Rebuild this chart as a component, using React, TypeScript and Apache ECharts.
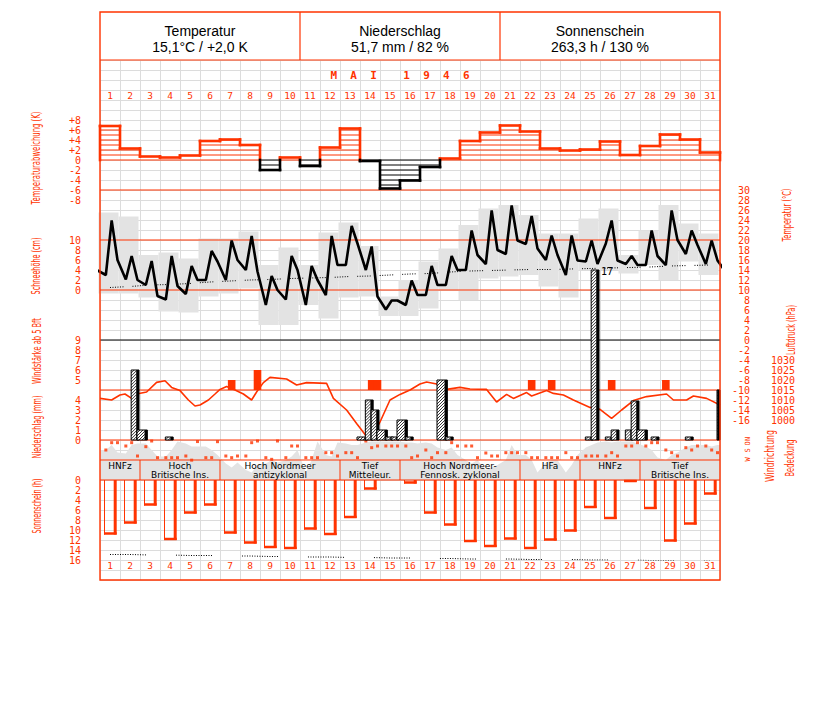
import React, { useEffect, useRef } from "react";
import * as echarts from "echarts";

const RED = "#ff3300";
const GRID_GREY = "#dcdcdc";
const BOX_GREY = "#e3e3e3";
const MONO = "'DejaVu Sans Mono', 'Liberation Mono', monospace";
const SANS = "'Liberation Sans', Arial, sans-serif";
const COND = "'DejaVu Sans Condensed', 'DejaVu Sans', sans-serif";

const dayLabels = ["1","2","3","4","5","6","7","8","9","10","11","12","13","14","15","16","17","18","19","20","21","22","23","24","25","26","27","28","29","30","31"];

const headerTitles = ["Temperatur", "Niederschlag", "Sonnenschein"];
const headerValues = ["15,1°C / +2,0 K", "51,7 mm / 82 %", "263,3 h / 130 %"];

// Temperature anomaly (K) per day
const anomalyK = [6.8, 2.3, 0.7, 0.5, 0.9, 3.8, 4.1, 3.0, -2.0, 0.5, -1.2, 2.5, 6.3, -0.2, -5.7, -4.1, -1.4, 0.3, 3.8, 5.5, 6.9, 5.7, 2.3, 1.9, 2.1, 3.7, 1.0, 2.8, 5.1, 4.1, 1.5];

// Temperature at 7, 14, 21 h (°C)
const temp07 = [13.0, 12.1, 11.0, 8.1, 9.2, 12.0, 12.0, 14.0, 7.0, 8.1, 7.0, 9.0, 15.0, 14.0, 6.1, 7.0, 9.0, 11.0, 14.0, 15.2, 17.2, 19.2, 16.0, 13.0, 15.7, 19.3, 15.2, 15.0, 15.0, 17.2, 15.2];
const temp14 = [23.9, 16.8, 15.8, 16.8, 14.8, 17.8, 19.9, 20.8, 12.8, 16.8, 14.8, 20.8, 22.8, 18.7, 7.9, 11.9, 14.8, 16.8, 21.9, 25.9, 26.9, 24.8, 20.9, 20.9, 19.9, 23.9, 16.8, 21.9, 25.9, 21.9, 19.9];
const temp21 = [16.0, 12.0, 8.8, 10.8, 12.0, 15.7, 16.0, 13.7, 10.0, 14.0, 12.0, 15.0, 19.3, 8.7, 7.9, 9.0, 11.0, 14.0, 17.0, 18.0, 19.9, 18.3, 17.0, 15.9, 15.2, 15.9, 15.0, 16.8, 20.0, 19.0, 15.9];
const tempPrevEvening = 13.9;
const tempNextMorning = 13.6;
const tempMax = [25.5, 24.7, 17.0, 17.5, 16.3, 20.3, 20.3, 21.7, 15.0, 18.5, 15.0, 21.5, 23.5, 18.8, 8.7, 12.0, 15.7, 18.3, 23.0, 26.3, 27.0, 25.0, 21.3, 21.3, 24.3, 26.3, 17.0, 21.9, 27.0, 23.3, 21.3];
const tempMin = [9.3, 9.3, 8.5, 5.7, 5.5, 8.7, 9.3, 10.3, 3.0, 3.0, 7.0, 4.3, 8.5, 8.7, 4.8, 4.8, 6.3, 10.0, 8.0, 12.3, 12.7, 13.0, 10.7, 8.5, 14.0, 14.0, 13.3, 15.0, 12.0, 15.7, 13.0];
const tempNormal = [10.5, 10.7, 11.0, 11.1, 11.3, 11.6, 11.8, 12.0, 12.1, 12.3, 12.4, 12.5, 12.7, 12.8, 13.0, 13.2, 13.3, 13.6, 13.8, 13.9, 14.0, 14.1, 14.1, 14.2, 14.3, 14.4, 14.5, 14.6, 14.8, 14.9, 15.0];

// Precipitation per observation interval (slot 0: 21-7 h, 1: 7-14 h, 2: 14-21 h)
const precipDay = [2, 3, 4, 14, 14, 14, 15, 15, 15, 16, 16, 18, 18, 25, 25, 26, 26, 27, 27, 28, 28, 30, 32];
const precipSlot = [2, 0, 1, 0, 1, 2, 0, 1, 2, 0, 1, 0, 1, 1, 2, 1, 2, 1, 2, 0, 2, 1, 0];
const precipMm = [7, 1, 0.3, 0.3, 4, 3, 1, 0.3, 0.3, 2, 0.3, 6, 0.3, 0.3, 17, 0.3, 1, 1, 3.9, 1, 0.3, 0.3, 5];
const slotStartHour = [-3, 7, 14];
const slotEndHour = [7, 14, 21];

// Wind >= 5 Bft
const windDay = [7, 8, 14, 14, 22, 23, 26, 29];
const windHour = [14, 21, 14, 21, 14, 14, 14, 7];
const windBft = [5, 6, 5, 5, 5, 5, 5, 5];

// Air pressure (hPa)
const pressureDay = [0, 0.58, 1.0, 1.25, 1.58, 1.83, 2.33, 2.83, 3.25, 3.58, 4.0, 4.42, 4.75, 5.0, 5.42, 5.75, 6.0, 6.33, 6.75, 7.17, 7.58, 7.83, 8.17, 8.5, 9.33, 9.83, 10.33, 11.33, 11.67, 12.33, 12.83, 13.33, 13.67, 14.0, 14.5, 15.0, 15.5, 16.0, 16.33, 16.83, 17.33, 18.0, 18.5, 19.33, 19.83, 20.33, 20.67, 21.33, 21.58, 22.33, 22.67, 23.17, 23.67, 24.5, 25.0, 25.58, 26.08, 26.67, 27.33, 28.33, 28.67, 29.33, 29.67, 30.33, 31.0];
const pressureHpa = [1010.8, 1010, 1012.5, 1013, 1010.8, 1013, 1014, 1018.8, 1019.6, 1016.3, 1014.7, 1010, 1007, 1007.5, 1010, 1013, 1015.3, 1016.7, 1015, 1013, 1010, 1014, 1018.7, 1021.3, 1020.5, 1017.5, 1018.7, 1018.3, 1010.8, 1005, 998.3, 991.7, 992.5, 999, 1010, 1012.8, 1015, 1018, 1019, 1018, 1015.3, 1016.3, 1015.5, 1015.3, 1009, 1012.8, 1010.8, 1013.7, 1012, 1014.7, 1013.3, 1012.5, 1010, 1006.3, 1005.3, 1000.8, 1005, 1009.7, 1011.7, 1013, 1010, 1010, 1012, 1010.8, 1007.5];

// Cloud cover (octas) at 7, 14, 21 h
const cloud07 = [6, 5.3, 7.3, 4.7, 7.3, 6.7, 3.3, 2, 3.3, 4, 1.5, 5, 7.3, 7.5, 7.7, 7.5, 7.5, 6, 4, 2, 4, 5, 3.5, 1.5, 6.5, 7.7, 7.7, 6.7, 4, 6.5, 7];
const cloud14 = [7, 7, 6, 6, 6.7, 6, 2.5, 1.5, 4, 4.7, 4, 4.7, 7, 7.7, 7.7, 7.5, 7.3, 6.5, 3.3, 2.5, 7, 4, 4, 3, 7, 7.5, 7.7, 6, 5, 7, 6.7];
const cloud21 = [5.5, 7.3, 4.7, 7.7, 6.7, 5, 3.5, 3, 3.5, 6, 7.7, 7.5, 7, 7.7, 7.7, 7.3, 6.5, 5, 4, 3, 5, 1.5, 4, 5, 7.5, 7.7, 7.3, 4.5, 5.5, 7, 7];

// Wind direction (degrees) at 7, 14, 21 h
const dir07 = [162, 90, 102, 300, 270, 300, 270, 270, 300, 300, 300, 210, 210, 0, 90, 90, 162, 210, 90, 216, 210, 210, 300, 210, 270, 270, 90, 90, 162, 120, 90];
const dir14 = [30, 30, 0, 300, 345, 300, 300, 30, 330, 90, 300, 210, 210, 120, 90, 300, 300, 30, 90, 270, 210, 300, 300, 300, 270, 210, 90, 30, 210, 162, 162];
const dir21 = [30, 270, 300, 300, 10, 12, 270, 0, 0, 90, 300, 270, 300, 90, 90, 270, 210, 90, 300, 270, 210, 300, 300, 300, 270, 270, 30, 30, 270, 90, 210];

// Sunshine (h) per day and possible duration
const sunHours = [10.9, 8.7, 5.1, 12.0, 6.7, 5.1, 10.7, 12.7, 13.6, 13.8, 9.9, 11.0, 7.6, 1.9, 0, 0.7, 6.7, 9.1, 12.4, 13.4, 11.9, 13.8, 12.1, 10.3, 5.6, 7.8, 0.4, 5.8, 12.3, 8.9, 2.9];
const sunPossible = [14.9, 14.9, 15.0, 15.0, 15.1, 15.1, 15.2, 15.2, 15.3, 15.3, 15.4, 15.4, 15.5, 15.5, 15.6, 15.6, 15.7, 15.7, 15.8, 15.8, 15.8, 15.9, 15.9, 15.9, 16.0, 16.0, 16.0, 16.1, 16.1, 16.1, 16.2];

// Weather types (Großwetterlagen)
const gwlStart = [0, 2, 6, 12, 15, 21, 24, 27];
const gwlEnd = [2, 6, 12, 15, 21, 24, 27, 31];
const gwlLine1 = ["HNFz", "Hoch", "Hoch Nordmeer", "Tief", "Hoch Nordmeer-", "HFa", "HNFz", "Tief"];
const gwlLine2 = ["", "Britische Ins.", "antizyklonal", "Mitteleur.", "Fennosk. zyklonal", "", "", "Britische Ins."];

const dirLetters = ["N", "O", "S", "W"];

function measure(text: string, font: string) {
  const ctx = document.createElement("canvas").getContext("2d") as CanvasRenderingContext2D;
  ctx.font = font;
  return ctx.measureText(text).width;
}

function vTitle(text: string, cx: number, cy: number, len: number) {
  const font = `12px ${COND}`;
  const w = measure(text, font) || len;
  return {
    type: "text", x: cx, y: cy, rotation: Math.PI / 2, scaleX: len / w, z: 20,
    style: { text, font, fill: RED, align: "center", verticalAlign: "middle", textAlign: "center", textVerticalAlign: "middle" },
  };
}

function hatch(x0: number, y0: number, x1: number, y1: number, step: number) {
  const out: any[] = [];
  for (let s = x0 + y0 + step; s < x1 + y1; s += step) {
    const xa = Math.max(x0, s - y1);
    const xb = Math.min(x1, s - y0);
    if (xb > xa) out.push({ type: "line", shape: { x1: xa, y1: s - xa, x2: xb, y2: s - xb }, style: { stroke: "#000", lineWidth: 0.8 } });
  }
  return out;
}

function buildOption() {
  const lbl = { color: RED, fontFamily: MONO, fontSize: 10, lineHeight: 9, margin: 19, showMinLabel: true, showMaxLabel: true, hideOverlap: false };
  const hidden = { axisLine: { show: false }, axisTick: { show: false }, splitLine: { show: false } };

  const grids = [
    { top: 60, height: 520 },
    { top: 100, height: 100 },
    { top: 190, height: 230 },
    { top: 340, height: 100 },
    { top: 440, height: 40 },
    { top: 480, height: 80 },
  ].map((g) => ({ ...g, left: 100, width: 620, show: false, containLabel: false, outerBoundsMode: "none" }));

  const xAxis = grids.map((_, i) => ({
    gridIndex: i, type: "value", min: 0, max: 31, interval: 1, show: i === 0,
    axisLine: { show: false }, axisTick: { show: false }, axisLabel: { show: false },
    splitLine: { show: i === 0, lineStyle: { color: GRID_GREY, width: 1 } },
  }));

  const yAxis = [
    { gridIndex: 0, type: "value", min: 0, max: 52, interval: 1, axisLine: { show: false }, axisTick: { show: false }, axisLabel: { show: false }, splitLine: { show: true, lineStyle: { color: GRID_GREY, width: 1 } } },
    { gridIndex: 1, type: "value", min: -8, max: 12, interval: 2, position: "left", ...hidden, axisLabel: { ...lbl, formatter: (v: number) => (v > 8 ? "" : v > 0 ? "+" + v : String(v)) } },
    { gridIndex: 2, type: "value", min: -26, max: 20, interval: 2, position: "left", ...hidden, axisLabel: { ...lbl, formatter: (v: number) => (v >= 0 && v <= 10 ? String(v) : "") } },
    { gridIndex: 2, type: "value", min: -16, max: 30, interval: 2, position: "right", ...hidden, axisLabel: { ...lbl, margin: 30, align: "right" } },
    { gridIndex: 3, type: "value", min: -1, max: 9, interval: 1, position: "left", ...hidden, axisLabel: { ...lbl, formatter: (v: number) => (v >= 5 ? String(v) : "") } },
    { gridIndex: 3, type: "value", min: 0, max: 10, interval: 1, position: "left", ...hidden, axisLabel: { ...lbl, formatter: (v: number) => (v <= 4 ? String(v) : "") } },
    { gridIndex: 3, type: "value", min: 990, max: 1040, interval: 5, position: "right", ...hidden, axisLabel: { ...lbl, margin: 75, align: "right", formatter: (v: number) => (v >= 1000 && v <= 1030 ? String(v) : "") } },
    { gridIndex: 4, type: "value", min: 0, max: 8, show: false },
    { gridIndex: 4, type: "value", min: -18, max: 702, inverse: true, show: false },
    { gridIndex: 5, type: "value", min: 0, max: 16, interval: 2, inverse: true, position: "left", ...hidden, axisLabel: { ...lbl } },
  ];

  const obsHours = [7, 14, 21];
  const tempLine: number[][] = [[-3 / 24, tempPrevEvening]];
  const cloudArea: number[][] = [];
  const dirPoints: number[][] = [];
  for (let d = 0; d < 31; d++) {
    tempLine.push([d + 7 / 24, temp07[d]], [d + 14 / 24, temp14[d]], [d + 21 / 24, temp21[d]]);
    const cl = [cloud07[d], cloud14[d], cloud21[d]];
    const dr = [dir07[d], dir14[d], dir21[d]];
    obsHours.forEach((h, k) => {
      cloudArea.push([d + h / 24, cl[k]]);
      dirPoints.push([d + h / 24, dr[k]]);
    });
  }
  tempLine.push([31 + 7 / 24, tempNextMorning]);
  cloudArea.unshift([0, cloud07[0]]);
  cloudArea.push([31, cloud21[30]]);

  const series: any[] = [
    // day labels top & bottom
    {
      type: "custom", xAxisIndex: 0, yAxisIndex: 0, z: 8, silent: true,
      data: dayLabels.map((_, i) => [i + 0.5, 0]),
      renderItem: (p: any, api: any) => {
        const x = api.coord([p.dataIndex + 0.5, 0])[0];
        const yTop = api.coord([0, 48.5])[1];
        const yBot = api.coord([0, 1.5])[1];
        const st = { text: dayLabels[p.dataIndex], fill: RED, font: `9.5px ${MONO}`, align: "center", verticalAlign: "middle", textAlign: "center", textVerticalAlign: "middle" };
        return { type: "group", children: [ { type: "text", x, y: yTop, style: st }, { type: "text", x, y: yBot, style: { ...st } } ] };
      },
    },
    // anomaly
    {
      type: "custom", xAxisIndex: 1, yAxisIndex: 1, z: 6, silent: true,
      data: anomalyK.map((v, i) => [i + 0.5, v]),
      renderItem: (p: any, api: any) => {
        const i = p.dataIndex;
        const v = anomalyK[i];
        const prev = i > 0 ? anomalyK[i - 1] : 0;
        const x0 = api.coord([i, 0])[0];
        const x1 = api.coord([i + 1, 0])[0];
        const y0 = api.coord([0, 0])[1];
        const yv = api.coord([0, v])[1];
        const col = v >= 0 ? RED : "#000";
        const ch: any[] = [];
        const n = Math.floor(Math.abs(v));
        for (let k = 1; k <= n; k++) {
          const yk = api.coord([0, Math.sign(v) * k])[1];
          ch.push({ type: "line", shape: { x1: x0, y1: yk, x2: x1, y2: yk }, style: { stroke: col, lineWidth: 1 } });
        }
        ch.push({ type: "line", shape: { x1: x0, y1: y0, x2: x1, y2: y0 }, style: { stroke: col, lineWidth: 1 } });
        ch.push({ type: "line", shape: { x1: x0, y1: yv, x2: x1, y2: yv }, style: { stroke: col, lineWidth: 2.6, lineCap: "square" } });
        const seg = (a: number, b: number, x: number) => {
          const ha = Math.max(a, 0), hb = Math.max(b, 0);
          if (ha !== hb) ch.push({ type: "line", shape: { x1: x, y1: api.coord([0, ha])[1], x2: x, y2: api.coord([0, hb])[1] }, style: { stroke: RED, lineWidth: 2.6, lineCap: "square" } });
          const la = Math.min(a, 0), lb = Math.min(b, 0);
          if (la !== lb) ch.push({ type: "line", shape: { x1: x, y1: api.coord([0, la])[1], x2: x, y2: api.coord([0, lb])[1] }, style: { stroke: "#000", lineWidth: 2.6, lineCap: "square" } });
        };
        seg(prev, v, x0);
        if (i === anomalyK.length - 1) seg(v, 0, x1);
        return { type: "group", children: ch };
      },
    },
    // temperature min-max boxes
    {
      type: "custom", xAxisIndex: 2, yAxisIndex: 3, z: 2, silent: true,
      data: tempMax.map((v, i) => [i + 0.5, v]),
      renderItem: (p: any, api: any) => {
        const i = p.dataIndex;
        const a = api.coord([i, tempMax[i]]);
        const b = api.coord([i + 1, tempMin[i]]);
        return { type: "rect", shape: { x: a[0] - 1.5, y: a[1], width: b[0] - a[0], height: b[1] - a[1] }, style: { fill: BOX_GREY } };
      },
    },
    // temperature normal (dotted)
    {
      type: "line", xAxisIndex: 2, yAxisIndex: 3, z: 5, silent: true, symbol: "none",
      data: tempNormal.map((v, i) => [i + 0.5, v]),
      lineStyle: { color: "#000", width: 1, type: [1, 1.5, 1, 1.5, 1, 1.5, 1, 1.5, 1, 1.5, 1, 9] },
    },
    // temperature observations
    {
      type: "line", xAxisIndex: 2, yAxisIndex: 3, z: 6, silent: true, symbol: "none",
      data: tempLine, lineStyle: { color: "#000", width: 2.6 }, clip: true,
    },
    // wind >= 5 Bft
    {
      type: "custom", xAxisIndex: 3, yAxisIndex: 4, z: 5, silent: true,
      data: windDay.map((d, i) => [d - 1 + windHour[i] / 24, windBft[i]]),
      renderItem: (p: any, api: any) => {
        const i = p.dataIndex;
        const c = windDay[i] - 1 + windHour[i] / 24;
        const a = api.coord([c - 0.19, windBft[i]]);
        const b = api.coord([c + 0.19, 4]);
        return { type: "rect", shape: { x: a[0], y: a[1], width: b[0] - a[0], height: b[1] - a[1] }, style: { fill: RED } };
      },
    },
    // pressure
    {
      type: "line", xAxisIndex: 3, yAxisIndex: 6, z: 6, silent: true, symbol: "none",
      data: pressureDay.map((t, i) => [t, pressureHpa[i]]),
      lineStyle: { color: RED, width: 1.6 },
    },
    // precipitation bars
    {
      type: "custom", xAxisIndex: 3, yAxisIndex: 5, z: 7, silent: true,
      data: precipDay.map((d, i) => [d - 1, precipMm[i]]),
      renderItem: (p: any, api: any) => {
        const i = p.dataIndex;
        const d = precipDay[i] - 1;
        const s = precipSlot[i];
        const xMax = api.coord([31, 0])[0];
        const x0 = api.coord([d + slotStartHour[s] / 24, 0])[0] - 0.5;
        let x1 = api.coord([d + slotEndHour[s] / 24, 0])[0] + 1.5;
        if (x0 >= xMax) return null;
        x1 = Math.min(x1, xMax);
        const yb = api.coord([0, 0])[1];
        const yt = api.coord([0, precipMm[i]])[1];
        const ch: any[] = [
          { type: "rect", shape: { x: x0, y: yt, width: x1 - x0, height: yb - yt }, style: { fill: "#fff", stroke: "#000", lineWidth: 1 } },
          ...hatch(x0, yt, x1 - 2.5, yb, 3),
          { type: "rect", shape: { x: Math.max(x0, x1 - 2.8), y: yt, width: Math.min(2.8, x1 - x0), height: yb - yt }, style: { fill: "#000" } },
        ];
        if (precipMm[i] > 10) {
          ch.push({ type: "text", x: x1 + 2, y: yt + 1, style: { text: String(Math.round(precipMm[i])), fill: "#000", font: `10px ${MONO}`, align: "left", verticalAlign: "middle", textAlign: "left", textVerticalAlign: "middle" } });
        }
        return { type: "group", children: ch };
      },
    },
    // cloud cover
    {
      type: "line", xAxisIndex: 4, yAxisIndex: 7, z: 2, silent: true, symbol: "none",
      data: cloudArea, lineStyle: { width: 0, color: BOX_GREY }, areaStyle: { color: BOX_GREY, opacity: 1 },
    },
    // wind direction
    {
      type: "scatter", xAxisIndex: 4, yAxisIndex: 8, z: 6, silent: true,
      symbol: "rect", symbolSize: 3, itemStyle: { color: RED },
      data: dirPoints,
    },
    // weather types
    {
      type: "custom", xAxisIndex: 4, yAxisIndex: 7, z: 8, silent: true,
      data: gwlStart.map((s, k) => [s, k]),
      renderItem: (p: any, api: any) => {
        const k = p.dataIndex;
        const xs = api.coord([gwlStart[k], 0])[0];
        const xe = api.coord([gwlEnd[k], 0])[0];
        const yTop = api.coord([0, 4])[1];
        const yBot = api.coord([0, 0])[1];
        const y1 = api.coord([0, 2.9])[1];
        const y2 = api.coord([0, 1.1])[1];
        const st = { fill: "#000", font: `9px 'DejaVu Sans', sans-serif`, align: "center", verticalAlign: "middle", textAlign: "center", textVerticalAlign: "middle", lineHeight: 8.5 };
        const ch: any[] = [
          { type: "text", x: (xs + xe) / 2, y: y1, style: { ...st, text: gwlLine1[k] } },
        ];
        if (gwlLine2[k]) ch.push({ type: "text", x: (xs + xe) / 2, y: y2, style: { ...st, text: gwlLine2[k] } });
        if (k > 0) ch.push({ type: "line", shape: { x1: xs, y1: yTop, x2: xs, y2: yBot }, style: { stroke: RED, lineWidth: 1 } });
        return { type: "group", children: ch };
      },
    },
    // sunshine bars
    {
      type: "custom", xAxisIndex: 5, yAxisIndex: 9, z: 5, silent: true,
      data: sunHours.map((v, i) => [i + 0.5, v]),
      renderItem: (p: any, api: any) => {
        const i = p.dataIndex;
        const v = sunHours[i];
        if (v <= 0) return null;
        const x0 = api.coord([i + 0.2, 0])[0];
        const x1 = api.coord([i + 0.835, 0])[0];
        const y0 = api.coord([0, 0])[1];
        const y1 = api.coord([0, v])[1];
        return {
          type: "group", children: [
            { type: "line", shape: { x1: x0 + 0.5, y1: y0, x2: x0 + 0.5, y2: y1 }, style: { stroke: RED, lineWidth: 1 } },
            { type: "line", shape: { x1: x1 - 1.5, y1: y0, x2: x1 - 1.5, y2: y1 }, style: { stroke: RED, lineWidth: 3 } },
            { type: "line", shape: { x1: x0, y1: y1 - 1, x2: x1, y2: y1 - 1 }, style: { stroke: RED, lineWidth: 2.5 } },
          ],
        };
      },
    },
    // possible sunshine (dotted)
    {
      type: "line", xAxisIndex: 5, yAxisIndex: 9, z: 5, silent: true, symbol: "none",
      data: sunPossible.map((v, i) => [i + 0.5, v]),
      lineStyle: { color: "#000", width: 1, type: [1, 1.5, 1, 1.5, 1, 1.5, 1, 1.5, 1, 1.5, 1, 1.5, 1, 1.5, 1, 1.5, 1, 1.5, 1, 1.5, 1, 1.5, 1, 1.5, 1, 1.5, 1, 1.5, 1, 30] },
    },
  ];

  const hLine = (y: number, color: string) => ({ type: "line", z: 4, silent: true, shape: { x1: 100, y1: y, x2: 720, y2: y }, style: { stroke: color, lineWidth: 1.2 } });
  const txt = (text: string, x: number, y: number, font: string, fill: string) => ({ type: "text", x, y, z: 20, silent: true, style: { text, font, fill, align: "center", verticalAlign: "middle", textAlign: "center", textVerticalAlign: "middle" } });

  const graphic: any[] = [
    { type: "rect", z: 1, silent: true, shape: { x: 100, y: 460, width: 620, height: 20 }, style: { fill: "#fff" } },
    hLine(190, RED), hLine(240, RED), hLine(290, RED), hLine(340, "#000"), hLine(390, RED), hLine(440, RED), hLine(460, RED), hLine(480, RED), hLine(60, RED),
    { type: "line", z: 4, silent: true, shape: { x1: 300, y1: 12, x2: 300, y2: 60 }, style: { stroke: RED, lineWidth: 1.2 } },
    { type: "line", z: 4, silent: true, shape: { x1: 500, y1: 12, x2: 500, y2: 60 }, style: { stroke: RED, lineWidth: 1.2 } },
    { type: "rect", z: 21, silent: true, shape: { x: 100, y: 12, width: 620, height: 568 }, style: { fill: "none", stroke: RED, lineWidth: 1.4 } },
    txt("M  A  I    1  9  4  6", 400, 75, `bold 11px ${MONO}`, RED),
    vTitle("Temperaturabweichung (K)", 36, 158, 93),
    vTitle("Schneehöhe (cm)", 36, 266, 57),
    vTitle("Windstärke ab 5 Bft", 37, 351, 66),
    vTitle("Niederschlag (mm)", 37, 427, 63),
    vTitle("Sonnenschein (h)", 37, 506, 55),
    vTitle("Temperatur (°C)", 787, 215, 53),
    vTitle("Luftdruck (hPa)", 791, 330, 50),
    vTitle("Windrichtung", 769, 456, 52),
    vTitle("Bedeckung", 790, 458, 37),
  ];
  headerTitles.forEach((t, k) => {
    graphic.push(txt(t, 200 + k * 200, 31, `14px ${SANS}`, "#000"));
    graphic.push(txt(headerValues[k], 200 + k * 200, 47, `14px ${SANS}`, "#000"));
  });
  const letterY = [439, 443.5, 450.5, 459.5];
  dirLetters.forEach((l, k) => {
    graphic.push({ type: "text", x: 748, y: letterY[k], rotation: Math.PI / 2, z: 20, silent: true, style: { text: l, font: `7px ${MONO}`, fill: RED, align: "center", verticalAlign: "middle", textAlign: "center", textVerticalAlign: "middle" } });
  });

  return { animation: false, backgroundColor: "#fff", grid: grids, xAxis, yAxis, series, graphic };
}

export default function App() {
  const ref = useRef<HTMLDivElement>(null);
  useEffect(() => {
    if (!ref.current) return;
    const chart = echarts.init(ref.current, undefined, { renderer: "svg", width: 827, height: 702 });
    chart.setOption(buildOption() as any);
    return () => chart.dispose();
  }, []);
  return <div ref={ref} style={{ position: "absolute", left: 0, top: 0, width: 827, height: 702, background: "#fff" }} />;
}
